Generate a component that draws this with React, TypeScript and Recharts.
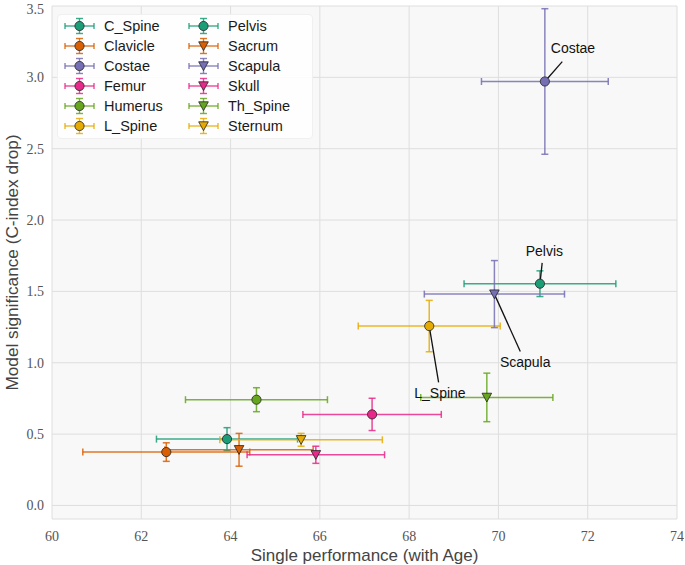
import React from 'react';
import {
  ScatterChart, Scatter, XAxis, YAxis, CartesianGrid, ErrorBar, Legend,
  ReferenceLine, ReferenceDot,
} from 'recharts';

// organ regions, in legend order
const organs = ['C_Spine', 'Clavicle', 'Costae', 'Femur', 'Humerus', 'L_Spine', 'Pelvis', 'Sacrum', 'Scapula', 'Skull', 'Th_Spine', 'Sternum'];
// single performance (with Age) and its spread
const perf = [63.92, 62.56, 71.04, 67.17, 64.58, 68.45, 70.93, 64.19, 69.91, 65.91, 69.74, 65.58];
const perfErr = [1.58, 1.87, 1.42, 1.55, 1.59, 1.59, 1.70, 1.66, 1.57, 1.54, 1.48, 1.82];
// model significance (C-index drop) and its spread
const signif = [0.465, 0.374, 2.971, 0.638, 0.741, 1.257, 1.554, 0.39, 1.481, 0.355, 0.757, 0.46];
const signifErr = [0.08, 0.065, 0.51, 0.113, 0.084, 0.18, 0.09, 0.115, 0.235, 0.06, 0.17, 0.045];

const xTicks = [60, 62, 64, 66, 68, 70, 72, 74];
const yTicks = [0, 0.5, 1, 1.5, 2, 2.5, 3, 3.5];

// annotated organs: label anchor and leader start
const notes = ['Costae', 'Pelvis', 'Scapula', 'L_Spine'];
const noteX = [71.67, 71.03, 70.60, 68.69];
const noteY = [3.207, 1.785, 1.002, 0.788];
const leadX = [71.43, 70.98, 70.49, 68.66];
const leadY = [3.11, 1.70, 1.079, 0.862];

const dark2 = ['#1b9e77', '#d95f02', '#7570b3', '#e7298a', '#66a61e', '#e6ab02'];
const markerKind = organs.map((_, i) => (i < 7 ? 'circle' : 'tri'));
const colorOf = (i: number) => dark2[i % 6];

const sans = '"Liberation Sans", Arial, Helvetica, sans-serif';
const serif = '"Liberation Serif", "Times New Roman", serif';

const points = organs.map((name, i) => ({ name, x: perf[i], y: signif[i], ex: perfErr[i], ey: signifErr[i] }));

const drawMarker = (cx: number, cy: number, kind: string, color: string) => {
  if (kind === 'circle') {
    return <circle cx={cx} cy={cy} r={4.6} fill={color} stroke="#222" strokeWidth={0.8} />;
  }
  const pts = `${cx - 4.8},${cy - 4.2} ${cx + 4.8},${cy - 4.2} ${cx},${cy + 4.6}`;
  return <polygon points={pts} fill={color} stroke="#222" strokeWidth={0.8} strokeLinejoin="miter" />;
};

const XTick = ({ x, y, payload }: any) => (
  <text x={x} y={y + 14} textAnchor="middle" fontFamily={serif} fontSize={14} fill="#555">
    {payload.value}
  </text>
);

const YTick = ({ x, y, payload }: any) => (
  <text x={x} y={y} dy={5} textAnchor="end" fontFamily={serif} fontSize={14} fill="#555">
    {Number(payload.value).toFixed(1)}
  </text>
);

const LegendBox = () => {
  const half = Math.ceil(organs.length / 2);
  const cols = [organs.slice(0, half), organs.slice(half)];
  return (
    <div style={{
      background: 'rgba(255,255,255,0.85)', borderRadius: 4, padding: '1px 0 2px 6px',
      display: 'flex', fontFamily: sans, fontSize: 14.5, color: '#1a1a1a',
      border: '1px solid #f0f0f0',
    }}>
      {cols.map((col, c) => (
        <div key={c} style={{ width: 124 }}>
          {col.map((name, r) => {
            const i = c * half + r;
            const col_ = colorOf(i);
            return (
              <div key={name} style={{ height: 20, display: 'flex', alignItems: 'center' }}>
                <svg width={32} height={20} style={{ marginRight: 8 }}>
                  <g stroke={col_} strokeWidth={1.4} strokeOpacity={0.85}>
                    <line x1={1} y1={10} x2={30} y2={10} />
                    <line x1={1} y1={7} x2={1} y2={13} />
                    <line x1={30} y1={7} x2={30} y2={13} />
                    <line x1={15.5} y1={2.5} x2={15.5} y2={17.5} />
                    <line x1={12} y1={2.5} x2={19} y2={2.5} />
                    <line x1={12} y1={17.5} x2={19} y2={17.5} />
                  </g>
                  {drawMarker(15.5, 10, markerKind[i], col_)}
                </svg>
                <span>{name}</span>
              </div>
            );
          })}
        </div>
      ))}
    </div>
  );
};

export default function App() {
  return (
    <div style={{ position: 'absolute', left: 0, top: 0 }}>
      <ScatterChart width={685} height={565} margin={{ top: 6, right: 8, bottom: 0, left: 0 }}>
        <CartesianGrid stroke="#dedede" fill="#f8f8f8" strokeWidth={1} />
        <XAxis
          type="number" dataKey="x" domain={[60, 74]} ticks={xTicks} allowDataOverflow
          axisLine={false} tickLine={false} height={46} tick={<XTick />}
          label={{ value: 'Single performance (with Age)', position: 'insideBottom', offset: 4, style: { fontFamily: sans, fontSize: 17, fill: '#444' } }}
        />
        <YAxis
          type="number" dataKey="y" domain={[-0.095, 3.5]} ticks={yTicks} allowDataOverflow
          axisLine={false} tickLine={false} width={52} tick={<YTick />}
          label={{ value: 'Model significance (C-index drop)', angle: -90, position: 'insideLeft', offset: 12, style: { textAnchor: 'middle', fontFamily: sans, fontSize: 17.2, fill: '#444' } }}
        />
        {points.map((p, i) => (
          <Scatter
            key={p.name} name={p.name} data={[p]} fill={colorOf(i)} isAnimationActive={false}
            shape={(s: any) => drawMarker(s.cx, s.cy, markerKind[i], colorOf(i))}
          >
            <ErrorBar dataKey="ex" direction="x" width={3.5} stroke={colorOf(i)} strokeWidth={1.5} strokeOpacity={0.85} />
            <ErrorBar dataKey="ey" direction="y" width={3.5} stroke={colorOf(i)} strokeWidth={1.5} strokeOpacity={0.85} />
          </Scatter>
        ))}
        {notes.map((n, k) => {
          const i = organs.indexOf(n);
          return (
            <ReferenceLine
              key={`l-${n}`} ifOverflow="visible" stroke="#111" strokeWidth={1.3}
              segment={[{ x: leadX[k], y: leadY[k] }, { x: perf[i], y: signif[i] }]}
            />
          );
        })}
        {notes.map((n, k) => (
          <ReferenceDot
            key={`t-${n}`} x={noteX[k]} y={noteY[k]} ifOverflow="visible"
            shape={(s: any) => (
              <text x={s.cx} y={s.cy} textAnchor="middle" dominantBaseline="central" fontFamily={sans} fontSize={14} fill="#111">
                {n}
              </text>
            )}
          />
        ))}
        <Legend
          layout="vertical" align="center" verticalAlign="middle"
          wrapperStyle={{ left: 57, top: 14, width: 'auto' }}
          content={() => <LegendBox />}
        />
      </ScatterChart>
    </div>
  );
}
